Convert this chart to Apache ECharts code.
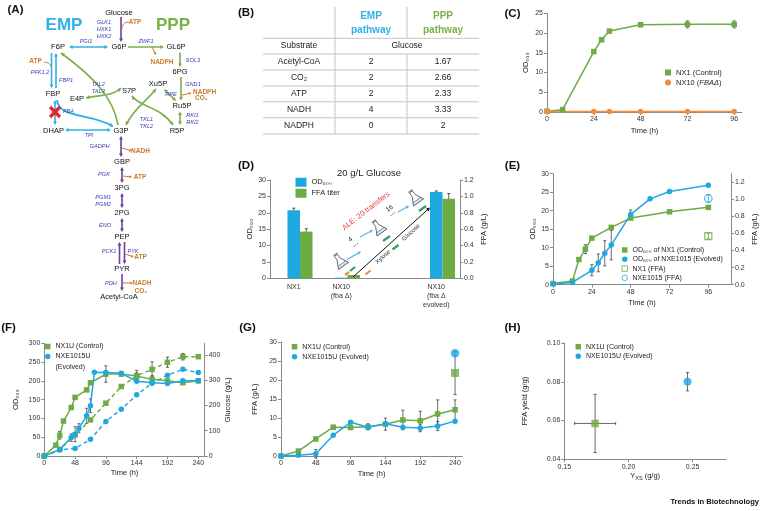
<!DOCTYPE html>
<html><head><meta charset="utf-8">
<script src="https://cdn.jsdelivr.net/npm/echarts@6/dist/echarts.min.js"></script>
<style>html,body{margin:0;padding:0;background:#fff}#c{width:765px;height:511px}</style>
</head><body><div id="c"></div>
<script>
// ================= DATA =================
// (B) table
const tblRows = ['Acetyl-CoA', 'CO₂', 'ATP', 'NADH', 'NADPH'];
const tblEMP = ['2', '2', '2', '4', '0'];
const tblPPP = ['1.67', '2.66', '2.33', '3.33', '2'];
// (C)
const cTimeNX1 = [0, 8, 24, 28, 32, 48, 72, 96];
const cOdNX1 = [0.2, 0.6, 15.3, 18.3, 20.5, 22.1, 22.2, 22.2];
const cErrNX1 = [0, 0, 0.3, 0.3, 0.3, 0.3, 0.9, 0.9];
const cTimeNX10 = [0, 24, 32, 48, 72, 96];
const cOdNX10 = [0.15, 0.1, 0.1, 0.1, 0.1, 0.1];
const cTicks = [0, 24, 48, 72, 96];
// (D)
const dCats = ['NX1', 'NX10\n(fba Δ)', '', 'NX10\n(fba Δ\nevolved)'];
const dOD = [20.8, 0.2, null, 26.3];
const dODErr = [0.6, 0, null, 0.35];
const dFFA = [0.57, 0.04, null, 0.97];
const dFFAErr = [0.035, 0, null, 0.065];
// (E)
const eTimeNX1 = [0, 12, 16, 20, 24, 36, 48, 72, 96];
const eOdNX1 = [0.3, 1.0, 6.8, 9.6, 12.6, 15.5, 18.0, 19.7, 20.9];
const eErrNX1 = [0, 0, 0, 1.2, 0.3, 0.3, 0.3, 0.3, 0.3];
const eTimeNXE = [0, 12, 24, 28, 32, 36, 48, 60, 72, 96];
const eOdNXE = [0.2, 0.6, 3.9, 5.9, 8.5, 10.7, 19.0, 23.2, 25.2, 26.9];
const eErrNXE = [0, 0, 1.5, 2.4, 3.4, 4.0, 1.2, 0.3, 0.3, 0.3];
const eFfaTime = [96];
const eFfaNX1 = [0.57];
const eFfaNX1Err = [0.03];
const eFfaNXE = [1.01];
const eFfaNXEErr = [0.045];
const eTicksX = [0, 24, 48, 72, 96];
const eTicksR = [0, 0.2, 0.4, 0.6, 0.8, 1.0, 1.2];
// (F)
const fTimeNX1 = [0, 18, 24, 30, 42, 48, 66, 72, 96, 120, 144, 168, 192, 216, 240];
const fOdNX1 = [0, 29, 55, 93, 129, 156, 176, 195, 218, 218, 213, 204, 200, 195, 200];
const fOdNX1Err = [0, 0, 10, 0, 0, 0, 0, 0, 22, 5, 8, 10, 0, 0, 0];
const fTimeNXE = [0, 24, 42, 48, 54, 66, 72, 78, 96, 120, 144, 168, 192, 216, 240];
const fOdNXE = [0, 17, 49, 58, 74, 107, 134, 223, 222, 220, 199, 195, 193, 200, 200];
const fOdNXEErr = [0, 0, 10, 20, 12, 20, 18, 0, 0, 0, 0, 0, 0, 0, 0];
const fGlcTime = [0, 24, 48, 72, 96, 120, 144, 168, 192, 216, 240];
const fGlcNX1 = [0, 26, 83, 143, 209, 275, 317, 343, 371, 393, 393];
const fGlcNX1Err = [0, 0, 0, 0, 0, 0, 22, 30, 20, 13, 0];
const fGlcNXE = [0, 24, 30, 66, 137, 185, 242, 288, 320, 343, 330];
const fTicksX = [0, 48, 96, 144, 192, 240];
const fTicksR = [0, 100, 200, 300, 400];
// (G)
const gTime = [0, 24, 48, 72, 96, 120, 144, 168, 192, 216, 240];
const gNX1 = [0, 1.3, 4.5, 7.6, 7.5, 7.7, 8.4, 9.5, 9.3, 11.1, 12.2];
const gNX1Err = [0, 0, 0, 0, 0, 0.8, 1.6, 2.6, 2.5, 3.7, 2.6];
const gNXE = [0, 0.2, 0.6, 5.5, 8.9, 7.6, 8.5, 7.6, 7.4, 7.9, 9.2];
const gNXEErr = [0, 0, 1.1, 0, 0, 0, 0, 0, 1.0, 1.2, 0];
const gEndTime = [240];
const gEndNX1 = [21.9];
const gEndNX1Err = [5.7];
const gEndNXE = [27.1];
// (H)
const hNX1x = [0.174], hNX1y = [0.0585], hNX1xErr = [0.016], hNX1yErr = [0.015];
const hNXEx = [0.246], hNXEy = [0.080], hNXEyErr = [0.0047];
const hTicksX = [0.15, 0.2, 0.25];
// (A) pathway node names
const pathwayNodes = ['Glucose', 'G6P', 'F6P', 'GL6P', '6PG', 'Xu5P', 'S7P', 'E4P', 'FBP', 'Ru5P',
  'DHAP', 'G3P', 'R5P', 'GBP', '3PG', '2PG', 'PEP', 'PYR', 'Acetyl-CoA'];

// ================= STYLE / LAYOUT =================
const FONT = "'Liberation Sans', Arial, Helvetica, sans-serif";
const GREEN = '#6dab45', BLUE = '#1ea8e2', ORANGE = '#f28d3f', AXIS = '#8a8a8a', TXT = '#222';
const CYAN = '#2fb0e6', PGREEN = '#79b04a', PURPLE = '#6e3f9e', COF = '#c97b2e', ENZ = '#3b3bb5';
const nodePos = {
  'Glucose': [119, 12.5], 'G6P': [119, 47], 'F6P': [58, 47], 'GL6P': [176, 47], '6PG': [180, 72],
  'Xu5P': [158, 84], 'S7P': [129, 91], 'E4P': [77, 98.5], 'FBP': [53, 94], 'Ru5P': [182, 106],
  'DHAP': [53.5, 130.5], 'G3P': [121, 130.5], 'R5P': [177, 130.5], 'GBP': [122, 162], '3PG': [122, 188],
  '2PG': [122, 213], 'PEP': [122, 237], 'PYR': [122, 269], 'Acetyl-CoA': [119, 297]
};

function merge(a, b) {
  const o = Array.isArray(a) ? a.slice() : Object.assign({}, a);
  for (const k in b) {
    if (b[k] && typeof b[k] === 'object' && !Array.isArray(b[k]) && a[k] && typeof a[k] === 'object' && !Array.isArray(a[k])) o[k] = merge(a[k], b[k]);
    else o[k] = b[k];
  }
  return o;
}
const RICH = { s: { fontSize: 5.5, padding: [5, 0, 0, 0], fontFamily: FONT, color: TXT } };
function vA(o) {
  return merge({
    type: 'value', nameLocation: 'middle',
    axisLine: { show: true, onZero: false, lineStyle: { color: AXIS, width: 1 } },
    axisTick: { show: true, length: 3, lineStyle: { color: AXIS } },
    axisLabel: { fontSize: 7, color: '#333', margin: 4, fontFamily: FONT },
    splitLine: { show: false },
    nameTextStyle: { fontSize: 7.5, color: TXT, fontFamily: FONT, rich: RICH }
  }, o);
}
function pairs(xs, ys) { return xs.map((x, i) => [x, ys[i]]); }
function vErr(xi, yi, xs, ys, es, color, offset) {
  return {
    type: 'custom', xAxisIndex: xi, yAxisIndex: yi, silent: true, z: 1,
    data: xs.map((x, i) => [x, ys[i], es[i]]).filter(d => d[1] != null && d[2] > 0),
    renderItem: (p, api) => {
      const x = api.value(0), y = api.value(1), e = api.value(2), ox = offset || 0, cap = 1.6;
      const a = api.coord([x, y + e]), b = api.coord([x, y - e]);
      const st = { stroke: color, lineWidth: 0.8 };
      return { type: 'group', children: [
        { type: 'line', shape: { x1: a[0] + ox, y1: a[1], x2: b[0] + ox, y2: b[1] }, style: st },
        { type: 'line', shape: { x1: a[0] + ox - cap, y1: a[1], x2: a[0] + ox + cap, y2: a[1] }, style: st },
        { type: 'line', shape: { x1: b[0] + ox - cap, y1: b[1], x2: b[0] + ox + cap, y2: b[1] }, style: st }] };
    }
  };
}
function hErr(xi, yi, xs, ys, es, color) {
  return {
    type: 'custom', xAxisIndex: xi, yAxisIndex: yi, silent: true, z: 1,
    data: xs.map((x, i) => [x, ys[i], es[i]]),
    renderItem: (p, api) => {
      const x = api.value(0), y = api.value(1), e = api.value(2), cap = 1.6;
      const a = api.coord([x - e, y]), b = api.coord([x + e, y]);
      const st = { stroke: color, lineWidth: 0.8 };
      return { type: 'group', children: [
        { type: 'line', shape: { x1: a[0], y1: a[1], x2: b[0], y2: b[1] }, style: st },
        { type: 'line', shape: { x1: a[0], y1: a[1] - cap, x2: a[0], y2: a[1] + cap }, style: st },
        { type: 'line', shape: { x1: b[0], y1: b[1] - cap, x2: b[0], y2: b[1] + cap }, style: st }] };
    }
  };
}
function lineS(name, xi, yi, data, color, sym, size, dashed) {
  return { type: 'line', name, xAxisIndex: xi, yAxisIndex: yi, data, symbol: sym, symbolSize: size,
    showSymbol: true, z: 3, clip: false,
    lineStyle: { color, width: 1.5, type: dashed ? [4, 3] : 'solid' }, itemStyle: { color, borderWidth: 0 } };
}

// ================= GRAPHIC HELPERS =================
const G = [];
function fnt(o) { return [(o.italic ? 'italic' : ''), (o.bold ? 'bold' : ''), (o.size || 7.5) + 'px', FONT].join(' ').trim(); }
function T(x, y, text, o = {}) {
  const st = { text, fill: o.color || TXT, font: fnt(o), align: o.align || 'center', verticalAlign: o.va || 'middle' };
  if (o.rich) st.rich = o.rich;
  G.push({ type: 'text', silent: true, z: 20, x, y, rotation: o.rot || 0, style: st });
}
function head(x, y, ang, color, L, W) {
  L = L || 3.6; W = W || 2;
  const c = Math.cos(ang), s = Math.sin(ang), bx = x - L * c, by = y - L * s;
  G.push({ type: 'polygon', silent: true, z: 15, shape: { points: [[x, y], [bx - W * s, by + W * c], [bx + W * s, by - W * c]] }, style: { fill: color } });
}
function arrow(x1, y1, x2, y2, color, o = {}) {
  const w = o.w || 1.6, L = o.L || 3.6, ang = Math.atan2(y2 - y1, x2 - x1);
  let sx = x1, sy = y1, ex = x2, ey = y2;
  if (o.end !== false) { ex -= L * 0.7 * Math.cos(ang); ey -= L * 0.7 * Math.sin(ang); }
  if (o.start) { sx += L * 0.7 * Math.cos(ang); sy += L * 0.7 * Math.sin(ang); }
  G.push({ type: 'line', silent: true, z: 14, shape: { x1: sx, y1: sy, x2: ex, y2: ey }, style: { stroke: color, lineWidth: w } });
  if (o.end !== false) head(x2, y2, ang, color, L, o.W);
  if (o.start) head(x1, y1, ang + Math.PI, color, L, o.W);
}
function curve(p0, c1, c2, p1, color, o = {}) {
  G.push({ type: 'bezierCurve', silent: true, z: 14,
    shape: { x1: p0[0], y1: p0[1], x2: p1[0], y2: p1[1], cpx1: c1[0], cpy1: c1[1], cpx2: c2[0], cpy2: c2[1] },
    style: { stroke: color, lineWidth: o.w || 1.6, fill: null } });
  if (o.end !== false) head(p1[0], p1[1], Math.atan2(p1[1] - c2[1], p1[0] - c2[0]), color, o.L, o.W);
  if (o.start) head(p0[0], p0[1], Math.atan2(p0[1] - c1[1], p0[0] - c1[0]), color, o.L, o.W);
}
function seg(x1, y1, x2, y2, color, w) {
  G.push({ type: 'line', silent: true, z: 14, shape: { x1, y1, x2, y2 }, style: { stroke: color, lineWidth: w || 1 } });
}
function flask(cx, cy, rot) {
  G.push({ type: 'polygon', silent: true, z: 16, x: cx, y: cy, rotation: rot,
    shape: { points: [[-1.8, -7], [1.8, -7], [1.8, -2.5], [6, 6], [-6, 6], [-1.8, -2.5]] },
    style: { fill: '#fff', stroke: '#555', lineWidth: 0.8 } });
  G.push({ type: 'polygon', silent: true, z: 17, x: cx, y: cy, rotation: rot,
    shape: { points: [[-4.6, 3.2], [4.6, 3.2], [6, 6], [-6, 6]] }, style: { fill: '#cfe8f7', stroke: '#555', lineWidth: 0.6 } });
  G.push({ type: 'rect', silent: true, z: 17, x: cx, y: cy, rotation: rot,
    shape: { x: -2.4, y: -8.6, width: 4.8, height: 1.8 }, style: { fill: '#888' } });
}

// ---------- panel letters ----------
[['(A)', 15.5, 10], ['(B)', 246, 13.3], ['(C)', 512.5, 14.3], ['(D)', 246, 165.5], ['(E)', 512.5, 166],
 ['(F)', 8.5, 328], ['(G)', 247.5, 328], ['(H)', 512.5, 328]].forEach(d => T(d[1], d[2], d[0], { bold: true, size: 11.5, color: '#111' }));

// ---------- (A) pathway ----------
T(64, 25, 'EMP', { bold: true, size: 17, color: CYAN });
T(173, 25, 'PPP', { bold: true, size: 17, color: PGREEN });
pathwayNodes.forEach(n => T(nodePos[n][0], nodePos[n][1], n, { size: 7.5, color: '#111' }));
// purple chain
arrow(121, 17, 121, 42, PURPLE);
arrow(121, 136, 121, 157, PURPLE, { start: true });
arrow(122, 167, 122, 183, PURPLE, { start: true });
arrow(122, 193, 122, 208, PURPLE, { start: true });
arrow(122, 218, 122, 232, PURPLE, { start: true });
arrow(119.5, 264, 119.5, 242, PURPLE);
arrow(124.5, 242, 124.5, 264, PURPLE);
arrow(122, 274, 122, 291, PURPLE);
// cyan EMP
arrow(69, 47, 108, 47, CYAN, { start: true });
arrow(51.5, 53, 51.5, 88, CYAN);
arrow(56, 88, 56, 53, CYAN);
arrow(55, 100, 55, 125, CYAN, { start: true });
curve([57, 100], [59, 119], [92, 113], [113, 126.5], CYAN, { w: 1.8 });
arrow(65, 130, 111, 130, CYAN, { start: true });
seg(50, 107, 60, 117, '#e8232a', 3.2); seg(60, 107, 50, 117, '#e8232a', 3.2);
// green PPP
arrow(128, 47, 164, 47, PGREEN);
arrow(180, 52.5, 180, 67, PGREEN);
arrow(181, 77, 181, 100.5, PGREEN);
arrow(180, 111.5, 180, 125, PGREEN, { start: true });
arrow(164, 89, 176, 101, PGREEN, { start: true });
curve([118, 125], [113, 96], [92, 76], [61, 53], PGREEN);
curve([86, 98], [100, 94.5], [112, 97], [121, 88], PGREEN, { start: true });
curve([126, 125], [134, 108], [146, 102], [156, 89], PGREEN, { start: true });
curve([132, 96], [139, 107], [160, 106], [173, 125], PGREEN, { start: true });
// cofactor branches
curve([129, 22], [124, 22], [122, 25], [122, 29], COF, { w: 1, end: false });
arrow(152, 47, 156, 55, COF, { w: 1, L: 2.6, W: 1.5 });
curve([44, 62], [48, 62], [50, 64], [51.5, 67], COF, { w: 1, end: false });
arrow(182, 95, 191.5, 93, COF, { w: 1, L: 2.6, W: 1.5 });
arrow(122, 148, 132, 151, COF, { w: 1, L: 2.6, W: 1.5 });
arrow(122.5, 176, 132, 177, COF, { w: 1, L: 2.6, W: 1.5 });
arrow(125, 254, 134, 257, COF, { w: 1, L: 2.6, W: 1.5 });
arrow(122.5, 283, 133, 283, COF, { w: 1, L: 2.6, W: 1.5 });
[['ATP', 135, 22.3], ['NADPH', 162, 62], ['ATP', 35.5, 61.7], ['NADH', 140.5, 151.7], ['ATP', 140, 177.3],
 ['ATP', 140.5, 257.7], ['NADH', 142, 283.3]].forEach(d => T(d[1], d[2], d[0], { bold: true, size: 6.5, color: COF }));
T(193, 92, 'NADPH', { bold: true, size: 6.5, color: COF, align: 'left' });
T(195, 98.5, 'CO₂', { bold: true, size: 6.5, color: COF, align: 'left' });
T(134.5, 290.8, 'CO₂', { bold: true, size: 6.5, color: COF, align: 'left' });
// enzymes
[['GLK1', 104, 22], ['HXK1', 104, 29], ['HXK2', 104, 36], ['PGI1', 86, 41.7], ['ZWF1', 146, 41.7], ['SOL3', 193, 60],
 ['PFK1,2', 40, 72], ['FBP1', 66, 80.5], ['TAL2', 98.3, 84], ['TAL3', 98.3, 91], ['GND1', 193, 84.5], ['RPE', 171, 94],
 ['FBA', 68.5, 111], ['TKL1', 146.5, 119.3], ['TKL2', 146.5, 126], ['RKI1', 192.5, 115.5], ['RKI2', 192.5, 122.5],
 ['TPI', 89, 135.3], ['GADPH', 99.5, 146.7], ['PGK', 104, 174.3], ['PGM1', 103.3, 197.5], ['PGM2', 103.3, 204],
 ['ENO', 105, 225], ['PCK1', 109, 251], ['PYK', 133, 251], ['PDH', 111, 283.3]]
  .forEach(d => T(d[1], d[2], d[0], { italic: true, size: 5.6, color: ENZ }));

// ---------- (B) table ----------
const TL = 263, TR = 479, C1 = 335, C2 = 407, GRAY = '#c3c3c3';
T(371, 16, 'EMP', { bold: true, size: 10, color: CYAN });
T(371, 30, 'pathway', { bold: true, size: 10, color: CYAN });
T(443, 16, 'PPP', { bold: true, size: 10, color: PGREEN });
T(443, 30, 'pathway', { bold: true, size: 10, color: PGREEN });
T(299, 46, 'Substrate', { size: 8.5 });
T(407, 46, 'Glucose', { size: 8.5 });
tblRows.forEach((r, i) => {
  const y = 62 + i * 16;
  T(299, y, r, { size: 8.5 }); T(371, y, tblEMP[i], { size: 8.5 }); T(443, y, tblPPP[i], { size: 8.5 });
});
[38.3, 54, 70, 86, 101.8, 117.8, 134].forEach(y => seg(TL, y, TR, y, GRAY, 1));
seg(C1, 7, C1, 134, GRAY, 1); seg(C2, 7, C2, 38.3, GRAY, 1); seg(C2, 54, C2, 134, GRAY, 1);

// ---------- (D) title + ALE illustration ----------
T(369, 173, '20 g/L Glucose', { size: 9.5 });
arrow(353, 277, 430, 207.5, '#111', { w: 1, L: 3.6, W: 2 });
T(366, 211, 'ALE: 20 transfers', { size: 7.5, color: '#e0413a', rot: 0.66 });
T(383, 257, 'Xylose', { size: 6, color: '#333', rot: 0.74 });
T(411, 232.5, 'Glucose', { size: 6, color: '#333', rot: 0.74 });
seg(365.5, 274.5, 370.5, 270.5, '#f08a3a', 2.2);
seg(392.5, 249.5, 398.5, 245, '#2ea05a', 2.2);
flask(340, 261, 0.62); flask(378.5, 227.5, 0.62); flask(415, 197.5, 0.62);
seg(345, 275, 349, 272, '#f08a3a', 2.2); seg(350, 271, 355, 267, '#2ea05a', 2.2);
seg(383, 241, 390, 236, '#2ea05a', 2.2); seg(419, 211, 426, 206, '#2ea05a', 2.2);
arrow(347, 259.5, 361, 251.5, '#5ab8e6', { w: 1.4, L: 3, W: 1.8 });
arrow(360, 237, 373, 230, '#5ab8e6', { w: 1.4, L: 3, W: 1.8 });
arrow(398, 212, 409, 206, '#5ab8e6', { w: 1.4, L: 3, W: 1.8 });
T(350.5, 239.5, '4', { size: 6.5, color: '#222', rot: 0.6 });
T(356, 245, '• • •', { size: 3.5, color: '#222', rot: 0.6 });
T(389.5, 208.5, '16', { size: 6.5, color: '#222', rot: 0.6 });
T(393, 214, '• • •', { size: 3.5, color: '#222', rot: 0.6 });
// (F) legend 2nd line, footer
T(55.5, 367, '(Evolved)', { size: 7, align: 'left' });
T(759, 502, 'Trends in Biotechnology', { bold: true, size: 7.6, color: '#111', align: 'right' });

// ================= OPTION =================
const legendBase = { orient: 'vertical', padding: 0, itemGap: 1, itemWidth: 5.5, itemHeight: 5.5,
  textStyle: { fontSize: 7, color: TXT, fontFamily: FONT, lineHeight: 9 }, selectedMode: false };
const sq = (n, c) => ({ name: n, icon: 'rect', itemStyle: { color: c, borderWidth: 0 } });
const ci = (n, c) => ({ name: n, icon: 'circle', itemStyle: { color: c, borderWidth: 0 } });

const option = {
  animation: false,
  backgroundColor: '#fff',
  textStyle: { fontFamily: FONT },
  grid: [
    { left: 547, top: 13.3, width: 195, height: 98.7 },
    { left: 270, top: 180, width: 190, height: 98.3 },
    { left: 553, top: 173.7, width: 178, height: 111 },
    { left: 44.3, top: 343.3, width: 160.4, height: 112.7 },
    { left: 281, top: 342.3, width: 181.3, height: 113.7 },
    { left: 564.3, top: 343, width: 161.7, height: 116.3 }
  ],
  xAxis: [
    vA({ gridIndex: 0, min: 0, max: 100, axisTick: { customValues: cTicks }, axisLabel: { customValues: cTicks }, name: 'Time (h)', nameGap: 15 }),
    { type: 'category', gridIndex: 1, data: dCats,
      axisLine: { lineStyle: { color: AXIS } }, axisTick: { length: 3, lineStyle: { color: AXIS } },
      axisLabel: { interval: 0, fontSize: 7, color: '#333', lineHeight: 9, margin: 4, fontFamily: FONT } },
    vA({ gridIndex: 2, min: 0, max: 110, axisTick: { customValues: eTicksX }, axisLabel: { customValues: eTicksX }, name: 'Time (h)', nameGap: 14.5 }),
    vA({ gridIndex: 3, min: 0, max: 250, axisTick: { customValues: fTicksX }, axisLabel: { customValues: fTicksX }, name: 'Time (h)', nameGap: 13 }),
    vA({ gridIndex: 4, min: 0, max: 250, axisTick: { customValues: fTicksX }, axisLabel: { customValues: fTicksX }, name: 'Time (h)', nameGap: 14 }),
    vA({ gridIndex: 5, min: 0.15, max: 0.276, axisTick: { customValues: hTicksX },
      axisLabel: { customValues: hTicksX, formatter: v => v.toFixed(2) }, name: 'Y{s|XS} (g/g)', nameGap: 11.5 })
  ],
  yAxis: [
    vA({ gridIndex: 0, min: 0, max: 25, interval: 5, name: 'OD₆₀₀', nameGap: 17 }),
    vA({ gridIndex: 1, min: 0, max: 30, interval: 5, name: 'OD₆₀₀', nameGap: 14 }),
    vA({ gridIndex: 1, position: 'right', min: 0, max: 1.2, interval: 0.2, axisLabel: { formatter: v => v.toFixed(1) }, name: 'FFA (g/L)', nameGap: 20 }),
    vA({ gridIndex: 2, min: 0, max: 30, interval: 5, name: 'OD₆₀₀', nameGap: 16 }),
    vA({ gridIndex: 2, position: 'right', min: 0, max: 1.3, axisTick: { customValues: eTicksR },
      axisLabel: { customValues: eTicksR, formatter: v => v.toFixed(1) }, name: 'FFA (g/L)', nameGap: 20 }),
    vA({ gridIndex: 3, min: 0, max: 300, interval: 50, name: 'OD₆₀₀', nameGap: 24 }),
    vA({ gridIndex: 3, position: 'right', min: 0, max: 446, axisTick: { customValues: fTicksR },
      axisLabel: { customValues: fTicksR }, name: 'Glucose (g/L)', nameGap: 19 }),
    vA({ gridIndex: 4, min: 0, max: 30, interval: 5, name: 'FFA (g/L)', nameGap: 22 }),
    vA({ gridIndex: 5, min: 0.04, max: 0.10, interval: 0.02, axisLabel: { formatter: v => v.toFixed(2) }, name: 'FFA yield (g/g)', nameGap: 35 })
  ],
  legend: [
    merge(legendBase, { left: 665, top: 68, itemWidth: 6, itemHeight: 6, textStyle: { fontSize: 7.5 },
      data: [sq('NX1 (Control)', GREEN), ci('NX10 (FBAΔ)', ORANGE)],
      formatter: n => n === 'NX10 (FBAΔ)' ? 'NX10 ({i|FBAΔ})' : n }),
    merge(legendBase, { left: 295.5, top: 177.5, itemWidth: 11, itemHeight: 9, itemGap: 1.5, textStyle: { lineHeight: 9.5, fontSize: 7.5 },
      data: [{ name: 'OD₆₀₀', icon: 'rect', itemStyle: { color: BLUE } }, { name: 'FFA titer', icon: 'rect', itemStyle: { color: GREEN } }] }),
    merge(legendBase, { left: 621.5, top: 245.5, itemGap: 0.3,
      data: [sq('OD₆₀₀ of NX1 (Control)', GREEN), ci('OD₆₀₀ of NXE1015 (Evolved)', BLUE),
        { name: 'NX1 (FFA)', icon: 'rect', itemStyle: { color: '#fff', borderColor: GREEN, borderWidth: 1 } },
        { name: 'NXE1015 (FFA)', icon: 'circle', itemStyle: { color: '#fff', borderColor: BLUE, borderWidth: 1 } }] }),
    merge(legendBase, { left: 45, top: 342, itemGap: 1,
      data: [sq('NX1U (Control)', GREEN), ci('NXE1015U (Evolved)', BLUE)],
      formatter: n => n.replace(' (Evolved)', '') }),
    merge(legendBase, { left: 291.8, top: 342.2, itemGap: 1,
      data: [sq('NX1U (Control)', GREEN), ci('NXE1015U (Evolved)', BLUE)] }),
    merge(legendBase, { left: 575.5, top: 342.2, itemGap: 0.6,
      data: [sq('NX1U (Control)', GREEN), ci('NXE1015U (Evolved)', BLUE)] })
  ],
  graphic: { elements: G },
  series: [
    // (C)
    vErr(0, 0, cTimeNX1, cOdNX1, cErrNX1, '#555'),
    lineS('NX1 (Control)', 0, 0, pairs(cTimeNX1, cOdNX1), GREEN, 'rect', 5.5),
    lineS('NX10 (FBAΔ)', 0, 0, pairs(cTimeNX10, cOdNX10), ORANGE, 'circle', 5.5),
    // (D)
    { type: 'bar', name: 'spacer', xAxisIndex: 1, yAxisIndex: 1, data: dCats.map(() => null), barWidth: 12.5, barGap: '0%' },
    { type: 'bar', name: 'OD₆₀₀', xAxisIndex: 1, yAxisIndex: 1, data: dOD, barWidth: 12.5, barGap: '0%', itemStyle: { color: BLUE } },
    { type: 'bar', name: 'FFA titer', xAxisIndex: 1, yAxisIndex: 2, data: dFFA, barWidth: 12.5, barGap: '0%', itemStyle: { color: GREEN } },
    vErr(1, 1, [0, 1, 2, 3], dOD, dODErr, '#333', 0),
    vErr(1, 2, [0, 1, 2, 3], dFFA, dFFAErr, '#333', 12.5),
    // (E)
    vErr(2, 3, eTimeNX1, eOdNX1, eErrNX1, '#444'),
    vErr(2, 3, eTimeNXE, eOdNXE, eErrNXE, '#444'),
    vErr(2, 4, eFfaTime, eFfaNX1, eFfaNX1Err, GREEN),
    vErr(2, 4, eFfaTime, eFfaNXE, eFfaNXEErr, BLUE),
    lineS('OD₆₀₀ of NX1 (Control)', 2, 3, pairs(eTimeNX1, eOdNX1), GREEN, 'rect', 5.5),
    lineS('OD₆₀₀ of NXE1015 (Evolved)', 2, 3, pairs(eTimeNXE, eOdNXE), BLUE, 'circle', 5.5),
    { type: 'scatter', name: 'NX1 (FFA)', xAxisIndex: 2, yAxisIndex: 4, data: pairs(eFfaTime, eFfaNX1), symbol: 'rect', symbolSize: 7,
      itemStyle: { color: 'rgba(255,255,255,0)', borderColor: GREEN, borderWidth: 1.2 }, z: 4 },
    { type: 'scatter', name: 'NXE1015 (FFA)', xAxisIndex: 2, yAxisIndex: 4, data: pairs(eFfaTime, eFfaNXE), symbol: 'circle', symbolSize: 7.5,
      itemStyle: { color: 'rgba(255,255,255,0)', borderColor: BLUE, borderWidth: 1.2 }, z: 4 },
    // (F)
    vErr(3, 5, fTimeNX1, fOdNX1, fOdNX1Err, '#444'),
    vErr(3, 5, fTimeNXE, fOdNXE, fOdNXEErr, '#444'),
    vErr(3, 6, fGlcTime, fGlcNX1, fGlcNX1Err, '#444'),
    lineS('NX1U glucose', 3, 6, pairs(fGlcTime, fGlcNX1), GREEN, 'rect', 5.5, true),
    lineS('NXE1015U glucose', 3, 6, pairs(fGlcTime, fGlcNXE), BLUE, 'circle', 5.5, true),
    lineS('NX1U (Control)', 3, 5, pairs(fTimeNX1, fOdNX1), GREEN, 'rect', 5.5),
    lineS('NXE1015U (Evolved)', 3, 5, pairs(fTimeNXE, fOdNXE), BLUE, 'circle', 5.5),
    // (G)
    vErr(4, 7, gTime, gNX1, gNX1Err, '#444'),
    vErr(4, 7, gTime, gNXE, gNXEErr, '#444'),
    vErr(4, 7, gEndTime, gEndNX1, gEndNX1Err, '#444'),
    lineS('NX1U (Control)', 4, 7, pairs(gTime, gNX1), GREEN, 'rect', 5.5),
    lineS('NXE1015U (Evolved)', 4, 7, pairs(gTime, gNXE), BLUE, 'circle', 5.5),
    { type: 'scatter', name: 'NX1U (Control)', xAxisIndex: 4, yAxisIndex: 7, data: pairs(gEndTime, gEndNX1), symbol: 'rect', symbolSize: 8, itemStyle: { color: GREEN }, z: 4 },
    { type: 'scatter', name: 'NXE1015U (Evolved)', xAxisIndex: 4, yAxisIndex: 7, data: pairs(gEndTime, gEndNXE), symbol: 'circle', symbolSize: 8.5, itemStyle: { color: BLUE }, z: 4 },
    // (H)
    vErr(5, 8, hNX1x, hNX1y, hNX1yErr, '#444'),
    hErr(5, 8, hNX1x, hNX1y, hNX1xErr, '#444'),
    vErr(5, 8, hNXEx, hNXEy, hNXEyErr, '#444'),
    { type: 'scatter', name: 'NX1U (Control)', xAxisIndex: 5, yAxisIndex: 8, data: pairs(hNX1x, hNX1y), symbol: 'rect', symbolSize: 7.5, itemStyle: { color: GREEN }, z: 4 },
    { type: 'scatter', name: 'NXE1015U (Evolved)', xAxisIndex: 5, yAxisIndex: 8, data: pairs(hNXEx, hNXEy), symbol: 'circle', symbolSize: 8, itemStyle: { color: BLUE }, z: 4 }
  ]
};
option.legend[0].textStyle.rich = { i: { fontStyle: 'italic', fontSize: 7.5, fontFamily: FONT, color: TXT } };
const chart = echarts.init(document.getElementById('c'), null, { renderer: 'canvas' });
chart.setOption(option);
</script></body></html>
